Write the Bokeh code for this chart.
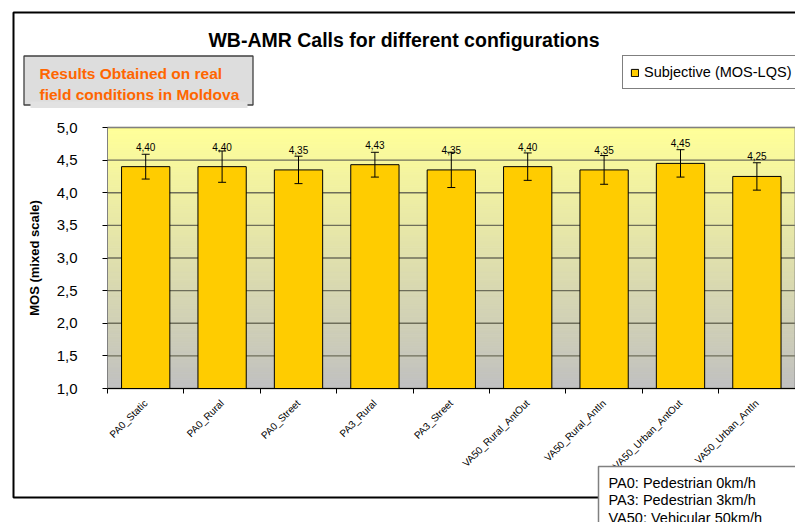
import numpy as np
from math import pi
from bokeh.plotting import figure
from bokeh.models import (Range1d, FixedTicker, ColumnDataSource, Whisker, TeeHead,
                          Label, BoxAnnotation, Legend, LegendItem, LinearAxis)
from bokeh.embed import file_html
from bokeh.resources import INLINE
from bokeh.core.properties import value

# ---------------- data ----------------
categories = ["PA0_Static", "PA0_Rural", "PA0_Street", "PA3_Rural", "PA3_Street",
              "VA50_Rural_AntOut", "VA50_Rural_AntIn", "VA50_Urban_AntOut", "VA50_Urban_AntIn"]
mos_values = [4.40, 4.40, 4.35, 4.43, 4.35, 4.40, 4.35, 4.45, 4.25]
mos_errors = [0.19, 0.24, 0.21, 0.19, 0.27, 0.21, 0.22, 0.21, 0.21]
y_ticks = [1.0, 1.5, 2.0, 2.5, 3.0, 3.5, 4.0, 4.5, 5.0]
y_tick_labels = ["1,0", "1,5", "2,0", "2,5", "3,0", "3,5", "4,0", "4,5", "5,0"]
series_name = "Subjective (MOS-LQS)"
title_text = "WB-AMR Calls for different configurations"
y_label = "MOS (mixed scale)"
note_lines = ["Results Obtained on real", "field conditions in Moldova"]
legend_notes = ["PA0: Pedestrian 0km/h", "PA3: Pedestrian 3km/h", "VA50: Vehicular 50km/h"]

FONT = "Liberation Sans"
W, H = 795, 522

n = len(categories)
centers = [i + 0.5 for i in range(n)]
boundaries = [float(i) for i in range(n + 1)]
y_min, y_max = y_ticks[0], y_ticks[-1]

# layout of plot area in pixels (page coordinates)
PX_LEFT, PX_CAT = 107.0, 76.4          # plot-area left edge, pixels per category
PY_TOP, PY_BOTTOM = 127.0, 388.0        # plot-area top / bottom
ppu_y = (PY_BOTTOM - PY_TOP) / (y_max - y_min)
x_rng = Range1d(-PX_LEFT / PX_CAT, (W - PX_LEFT) / PX_CAT)
y_rng = Range1d(y_min - (H - PY_BOTTOM) / ppu_y, y_max + PY_TOP / ppu_y)

p = figure(width=W, height=H, x_range=x_rng, y_range=y_rng,
           output_backend="svg", toolbar_location=None,
           x_axis_location=None, y_axis_location=None,
           min_border=0, min_border_left=0, min_border_right=0,
           min_border_top=0, min_border_bottom=0)
p.background_fill_color = "white"
p.border_fill_color = "white"
p.outline_line_color = None
for gr in p.grid:
    gr.visible = False

# gradient background of plot area (styling only)
ns = 120
ys = np.linspace(y_min, y_max, ns + 1)
top_c = np.array([255, 255, 153])
bot_c = np.array([192, 192, 192])
cols = []
for k in range(ns):
    t = (k + 0.5) / ns
    c = bot_c + (top_c - bot_c) * t
    cols.append("#%02x%02x%02x" % tuple(int(round(v)) for v in c))
g = p.quad(left=0, right=n, bottom=ys[:-1], top=ys[1:], fill_color=cols, line_color=cols,
           line_width=1)
g.level = "image"

# horizontal gridlines across the plot area
gl = p.segment(x0=0, x1=n, y0=y_ticks, y1=y_ticks, line_color="#6E6E5A", line_width=1.3)
gl.level = "underlay"

# plot area border
pb = p.quad(left=0, right=n, bottom=y_min, top=y_max, fill_color=None,
            line_color="#808080", line_width=1)

# bars
src = ColumnDataSource(dict(
    x=centers, top=mos_values,
    upper=[v + e for v, e in zip(mos_values, mos_errors)],
    lower=[v - e for v, e in zip(mos_values, mos_errors)],
    lab=[("%.2f" % v).replace(".", ",") for v in mos_values],
))
bars = p.vbar(x="x", top="top", bottom=y_min, width=0.632, source=src,
              fill_color="#FFCC00", line_color="#000000", line_width=1)

w = Whisker(base="x", upper="upper", lower="lower", source=src, dimension="height",
            line_color="#000000", line_width=1, level="overlay",
            upper_head=TeeHead(size=8, line_color="#000000", line_width=1),
            lower_head=TeeHead(size=8, line_color="#000000", line_width=1))
p.add_layout(w)

p.text(x="x", y="top", text="lab", source=src, y_offset=-20,
       text_align="center", text_baseline="middle",
       text_font=value(FONT), text_font_size="10px", text_color="#000000")

# y axis
yaxis = LinearAxis(fixed_location=0, bounds=(y_min, y_max),
                   ticker=FixedTicker(ticks=y_ticks),
                   major_label_overrides={t: l for t, l in zip(y_ticks, y_tick_labels)})
yaxis.major_label_text_font = FONT
yaxis.major_label_text_font_size = "15px"
yaxis.major_label_text_color = "#000000"
yaxis.major_label_standoff = 25
yaxis.major_tick_out = 5
yaxis.major_tick_in = 0
yaxis.minor_tick_line_color = None
yaxis.axis_line_color = "#808080"
yaxis.major_tick_line_color = "#000000"
yaxis.axis_label = y_label
yaxis.axis_label_text_font = FONT
yaxis.axis_label_text_font_size = "13px"
yaxis.axis_label_text_font_style = "bold"
yaxis.axis_label_text_color = "#000000"
yaxis.axis_label_standoff = 12
p.add_layout(yaxis, "left")

# x axis
xaxis = LinearAxis(fixed_location=y_min, bounds=(0, n),
                   ticker=FixedTicker(ticks=centers, minor_ticks=boundaries),
                   major_label_overrides={c: l for c, l in zip(centers, categories)})
xaxis.major_label_orientation = pi / 4
xaxis.major_label_text_font = FONT
xaxis.major_label_text_font_size = "10px"
xaxis.major_label_text_color = "#000000"
xaxis.major_label_standoff = 8
xaxis.major_tick_line_color = None
xaxis.major_tick_out = 0
xaxis.major_tick_in = 0
xaxis.minor_tick_out = 5
xaxis.minor_tick_in = 0
xaxis.minor_tick_line_color = "#000000"
xaxis.axis_line_color = "#000000"
p.add_layout(xaxis, "below")

# screen helpers (page coords -> canvas screen units, y measured from bottom)
def sx(X):
    return X
def sy(Y):
    return H - Y

def sbox(x0, y0, x1, y1, **kw):
    return BoxAnnotation(left=sx(x0), right=sx(x1), top=sy(y0), bottom=sy(y1),
                         left_units="screen", right_units="screen",
                         top_units="screen", bottom_units="screen", **kw)

# outer chart border
p.add_layout(sbox(13, 12, 900, 497, fill_color=None, fill_alpha=0,
                  line_color="#000000", line_width=2, line_alpha=1))

# title
p.add_layout(Label(x=sx(403.5), y=sy(39), x_units="screen", y_units="screen", text=title_text,
                   text_align="center", text_baseline="middle", text_font=FONT,
                   text_font_size="19.5px", text_font_style="bold", text_color="#000000"))

# orange note box
p.add_layout(sbox(23.5, 55.5, 252.5, 104.5, fill_color="#DDDDDD", fill_alpha=1,
                  line_color="#404040", line_width=1.3, line_alpha=1))
p.add_layout(sbox(30, 101, 247, 107.5, fill_color="#E2E2E2", fill_alpha=1,
                  line_color=None))
for i, line in enumerate(note_lines):
    p.add_layout(Label(x=sx(39), y=sy(73 + 21 * i), x_units="screen", y_units="screen",
                       text=line, text_align="left", text_baseline="middle",
                       text_font=FONT, text_font_size="15.5px", text_font_style="bold",
                       text_color="#FF6600"))

# legend
legend = Legend(items=[LegendItem(label=series_name, renderers=[bars])],
                location=(sx(622), sy(89)), orientation="vertical",
                padding=7, margin=0, spacing=0, label_standoff=5,
                glyph_width=9, glyph_height=9, label_height=18,
                label_text_font=FONT, label_text_font_size="14.5px",
                label_text_color="#000000",
                border_line_color="#000000", border_line_width=1,
                background_fill_color="white", background_fill_alpha=1)
p.add_layout(legend)

# bottom-right abbreviation box
p.add_layout(sbox(598, 466, 900, 560, fill_color="white", fill_alpha=1,
                  line_color="#808080", line_width=1.5, line_alpha=1))
for i, line in enumerate(legend_notes):
    p.add_layout(Label(x=sx(608), y=sy(482 + 17.5 * i), x_units="screen", y_units="screen",
                       text=line, text_align="left", text_baseline="middle",
                       text_font=FONT, text_font_size="14.5px", text_color="#000000"))

open("out.html", "w").write(file_html(p, INLINE))
